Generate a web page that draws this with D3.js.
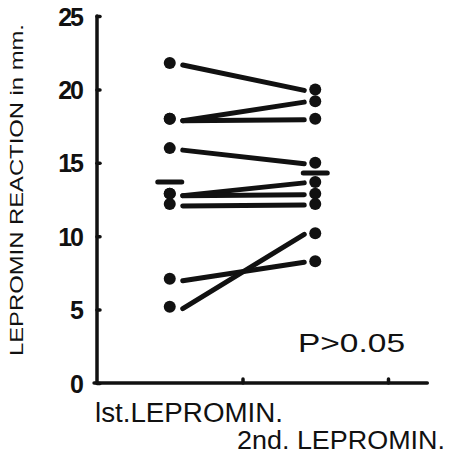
<!DOCTYPE html>
<meta charset="utf-8">
<script src="https://d3js.org/d3.v7.min.js"></script>
<style>
  body { margin: 0; background: #fff; }
  text { font-family: "Liberation Sans", Arial, sans-serif; fill: #111; }
</style>
<div id="my_dataviz"></div>
<script>

// values (mm)
var firstTest  = [21.8, 18.0, 18.0, 16.0, 12.9, 12.9, 12.2, 7.1, 5.2];
var secondTest = [20.0, 19.2, 18.0, 15.0, 13.7, 12.9, 12.2, 8.3, 10.2];
var groupMeans = [13.7, 14.3];
var yTicks = [0, 5, 10, 15, 20, 25];
var groupPos = [0.5, 1.5];

var width = 456, height = 456;

var svg = d3.select("#my_dataviz")
  .append("svg")
    .attr("width", width)
    .attr("height", height);

var x = d3.scaleLinear().domain([0, 2]).range([97, 388]);
var y = d3.scaleLinear().domain([0, 25]).range([383, 16]);

// Y axis
var yAxis = svg.append("g")
  .attr("transform", "translate(" + x(0) + ",0)")
  .call(d3.axisLeft(y)
    .tickValues(yTicks)
    .tickSizeInner(-3)
    .tickSizeOuter(0)
    .tickPadding(15));
yAxis.select(".domain").remove();
yAxis.selectAll(".tick line").attr("stroke", "#111").attr("stroke-width", 3.5).attr("stroke-linecap", "round");
yAxis.selectAll(".tick text")
  .style("font-size", "25px")
  .style("font-weight", "bold")
  .attr("letter-spacing", "-2")
  .attr("dy", "0.36em");

// X axis
var xAxis = svg.append("g")
  .attr("transform", "translate(0," + y(0) + ")")
  .call(d3.axisBottom(x)
    .tickValues([1, 2])
    .tickSizeInner(-4)
    .tickSizeOuter(0)
    .tickFormat(""));
xAxis.select(".domain").remove();
xAxis.selectAll(".tick line").attr("stroke", "#111").attr("stroke-width", 3.5).attr("stroke-linecap", "round");

// axis lines
svg.append("line")
  .attr("x1", x(0)).attr("x2", x(0))
  .attr("y1", y(25)).attr("y2", y(0))
  .attr("stroke", "#111").attr("stroke-width", 3.5).attr("stroke-linecap", "round");
svg.append("line")
  .attr("x1", x(-0.02)).attr("x2", x(2.27))
  .attr("y1", y(0)).attr("y2", y(0))
  .attr("stroke", "#111").attr("stroke-width", 3.5).attr("stroke-linecap", "round");

// connecting lines
var pairs = firstTest.map(function(d, i) { return [d, secondTest[i]]; });
svg.append("g")
  .selectAll("line")
  .data(pairs)
  .enter()
  .append("line")
    .attr("x1", x(groupPos[0]) + 13)
    .attr("x2", x(groupPos[1]) - 11)
    .attr("y1", function(d) { return y(d[0]) + 2; })
    .attr("y2", function(d) { return y(d[1]) + 1; })
    .attr("stroke", "#111")
    .attr("stroke-width", 5)
    .attr("stroke-linecap", "round");

// dots
svg.append("g")
  .selectAll("circle")
  .data(firstTest)
  .enter()
  .append("circle")
    .attr("cx", x(groupPos[0]))
    .attr("cy", function(d) { return y(d); })
    .attr("r", 6)
    .attr("fill", "#111");
svg.append("g")
  .selectAll("circle")
  .data(secondTest)
  .enter()
  .append("circle")
    .attr("cx", x(groupPos[1]))
    .attr("cy", function(d) { return y(d); })
    .attr("r", 6)
    .attr("fill", "#111");

// mean dashes
svg.append("g")
  .selectAll("line")
  .data(groupMeans)
  .enter()
  .append("line")
    .attr("x1", function(d, i) { return x(groupPos[i]) - 12; })
    .attr("x2", function(d, i) { return x(groupPos[i]) + 12; })
    .attr("y1", function(d) { return y(d); })
    .attr("y2", function(d) { return y(d); })
    .attr("stroke", "#111")
    .attr("stroke-width", 5)
    .attr("stroke-linecap", "round");

// labels
svg.append("text")
  .attr("transform", "translate(23,190) rotate(-90)")
  .attr("text-anchor", "middle")
  .attr("textLength", 332)
  .attr("lengthAdjust", "spacingAndGlyphs")
  .style("font-size", "19px")
  .text("LEPROMIN REACTION in mm.");

svg.append("text")
  .attr("x", 95).attr("y", 422)
  .attr("textLength", 188)
  .attr("lengthAdjust", "spacingAndGlyphs")
  .style("font-size", "27px")
  .text("lst.LEPROMIN.");

svg.append("text")
  .attr("x", 237).attr("y", 449)
  .attr("textLength", 208)
  .attr("lengthAdjust", "spacingAndGlyphs")
  .style("font-size", "26px")
  .text("2nd. LEPROMIN.");

svg.append("text")
  .attr("x", 298).attr("y", 352)
  .attr("textLength", 107)
  .attr("lengthAdjust", "spacingAndGlyphs")
  .style("font-size", "26px")
  .text("P>0.05");

</script>
